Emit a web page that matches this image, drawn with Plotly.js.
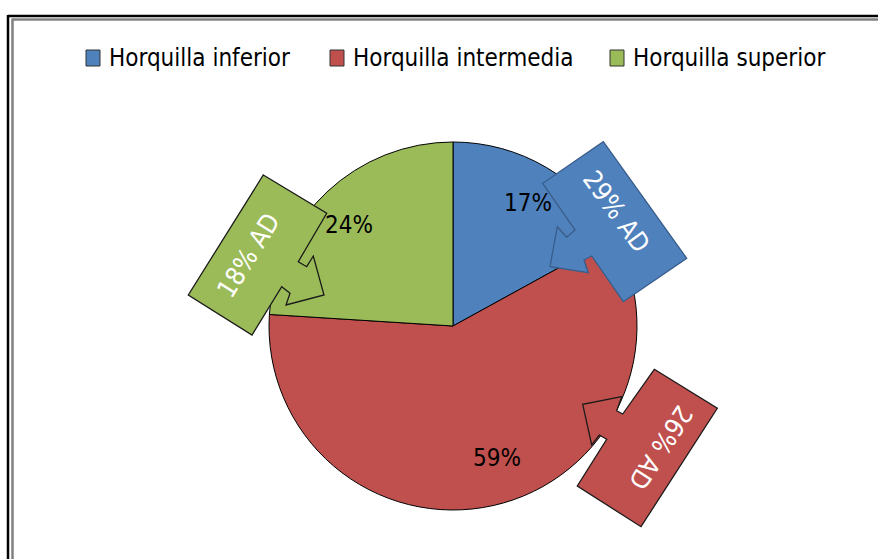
<!DOCTYPE html>
<html><head><meta charset="utf-8">
<script src="https://cdn.plot.ly/plotly-3.0.1.min.js"></script>
<style>html,body{margin:0;padding:0;background:#fff}#chart{width:878px;height:559px}</style>
</head><body><div id="chart"></div>
<script>
// ---- data ----
const categories = ['Horquilla inferior', 'Horquilla intermedia', 'Horquilla superior'];
const shares = [17, 59, 24];          // % of total (pie)
const adShares = [29, 26, 18];        // % AD shown in the callouts
const colors = ['#4F81BD', '#C0504D', '#9BBB59'];

// ---- layout helpers (pixel -> paper) ----
const W = 878, H = 559;
const px = x => x / W;
const py = y => 1 - y / H;
function path(pts) {
  return 'M' + pts.map(p => px(p[0]).toFixed(5) + ',' + py(p[1]).toFixed(5)).join(' L') + ' Z';
}
const FONT = 'DejaVu Sans Condensed, Liberation Sans Narrow, Arial Narrow, sans-serif';

// callout geometry (pixel outlines), one per category
const calloutPts = [
  [[603.3,141.7],[686.7,258.3],[623.3,301.7],[591.7,256],[584,260],[588.3,272.7],[550,266.7],[557.3,226.7],[566.7,237.3],[575,230],[542.7,183.3]],
  [[654.3,369.3],[717.3,408.3],[641,526.7],[577.3,486],[606.7,439.3],[599.3,435],[591.7,445],[582.7,404.3],[621.7,396.7],[616.7,410.7],[622.7,414]],
  [[263.3,175],[326.7,213.3],[298.3,261.7],[306.7,266.7],[313.3,256],[324,295],[286,305],[290,293.3],[281.7,286.7],[252,335],[188.3,295]]
];
const calloutLine = ['#385D8A', '#1a1a1a', '#1a1a1a'];
const calloutText = [[616,211,54], [661,447,123], [248,256,-58]];
const pctPos = [[528,203], [497,458], [349,225]];
const legendX = [86, 330, 610];   // left edge of each legend swatch
const legendY = 58;

const shapes = [
  {type:'line', xref:'paper', yref:'paper', x0:px(8), y0:py(16), x1:1.02, y1:py(16), line:{color:'#000', width:2.5}},
  {type:'line', xref:'paper', yref:'paper', x0:px(8), y0:py(15), x1:px(8), y1:-0.02, line:{color:'#000', width:2.5}},
  {type:'line', xref:'paper', yref:'paper', x0:px(12.5), y0:py(19.5), x1:1.02, y1:py(19.5), line:{color:'#808080', width:2.5}},
  {type:'line', xref:'paper', yref:'paper', x0:px(12.5), y0:py(18.5), x1:px(12.5), y1:-0.02, line:{color:'#808080', width:2.5}}
];
calloutPts.forEach((pts, i) => shapes.push({
  type:'path', xref:'paper', yref:'paper', path:path(pts),
  fillcolor:colors[i], line:{color:calloutLine[i], width:1.3}, layer:'above'
}));
// legend swatches
categories.forEach((c, i) => shapes.push({
  type:'rect', xref:'paper', yref:'paper',
  x0:px(legendX[i]), x1:px(legendX[i] + 14), y0:py(legendY - 8), y1:py(legendY + 8),
  fillcolor:colors[i], line:{color:'#333', width:1}
}));

const annotations = [];
categories.forEach((c, i) => annotations.push({
  xref:'paper', yref:'paper', x:px(legendX[i] + 21), y:py(legendY), text:c,
  showarrow:false, xanchor:'left', yanchor:'middle',
  font:{family:FONT, size:24, color:'#000'}
}));
shares.forEach((v, i) => annotations.push({
  xref:'paper', yref:'paper', x:px(pctPos[i][0]), y:py(pctPos[i][1]),
  text: v + '%', showarrow:false, xanchor:'center', yanchor:'middle',
  font:{family:FONT, size:24, color:'#000'}
}));
adShares.forEach((v, i) => annotations.push({
  xref:'paper', yref:'paper', x:px(calloutText[i][0]), y:py(calloutText[i][1]),
  text: v + '% AD', showarrow:false, xanchor:'center', yanchor:'middle',
  textangle: calloutText[i][2],
  font:{family:FONT, size:26, color:'#fff'}
}));

const cx = 453, cy = 326, r = 184;
const trace = {
  type:'pie', labels:categories, values:shares, sort:false,
  direction:'clockwise', rotation:0,
  marker:{colors:colors, line:{color:'#000', width:1}},
  textinfo:'none', hoverinfo:'label+percent', showlegend:false,
  domain:{x:[px(cx - r), px(cx + r)], y:[py(cy + r), py(cy - r)]}
};

const layout = {
  width:W, height:H, margin:{l:0, r:0, t:0, b:0},
  paper_bgcolor:'#fff', showlegend:false,
  shapes:shapes, annotations:annotations
};
Plotly.newPlot('chart', [trace], layout, {displayModeBar:false, staticPlot:true});
</script></body></html>
